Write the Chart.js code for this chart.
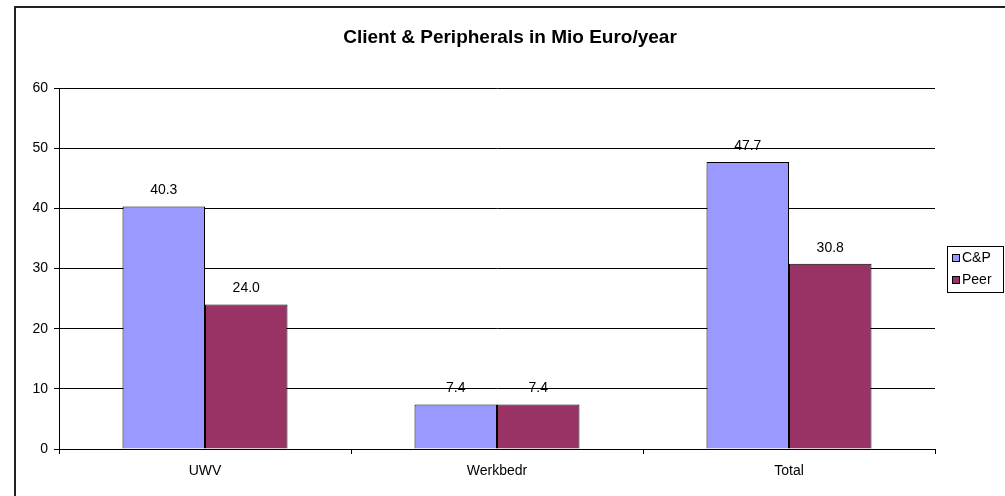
<!DOCTYPE html>
<html>
<head>
<meta charset="utf-8">
<script src="https://cdn.jsdelivr.net/npm/chart.js@4"></script>
<style>
    html, body { margin: 0; padding: 0; background: #fff; }
    #wrap { position: relative; width: 1005px; height: 496px; }
</style>
</head>
<body>
<div id="wrap"><canvas id="chart"></canvas></div>
<script>
const categories = ['UWV', 'Werkbedr', 'Total'];
const seriesNames = ['C&P', 'Peer'];
const cpValues = [40.3, 7.4, 47.7];
const peerValues = [24.0, 7.4, 30.8];
const seriesColors = ['#9999FF', '#993366'];
const yTicks = [0, 10, 20, 30, 40, 50, 60];
const chartTitle = 'Client & Peripherals in Mio Euro/year';

const font = 'Arial, "Liberation Sans", sans-serif';

// outer frame, title, value labels and boxed legend
const extras = {
    id: 'extras',
    beforeDraw(chart) {
        const ctx = chart.ctx;
        ctx.save();
        ctx.fillStyle = '#fff';
        ctx.fillRect(0, 0, chart.width, chart.height);
        ctx.strokeStyle = '#222';
        ctx.lineWidth = 2;
        ctx.strokeRect(15, 7, chart.width + 20, chart.height + 20);
        ctx.font = 'bold 19px ' + font;
        ctx.fillStyle = '#000';
        ctx.textAlign = 'center';
        ctx.textBaseline = 'middle';
        ctx.fillText(chartTitle, 510, 38);
        ctx.restore();
    },
    afterDatasetsDraw(chart) {
        const ctx = chart.ctx;
        ctx.save();
        ctx.font = '14px ' + font;
        ctx.fillStyle = '#000';
        ctx.textAlign = 'center';
        ctx.textBaseline = 'middle';
        chart.data.datasets.forEach((ds, i) => {
            chart.getDatasetMeta(i).data.forEach((bar, j) => {
                ctx.fillText(ds.data[j].toFixed(1), bar.x, bar.y - 16);
            });
        });
        ctx.restore();
    },
    afterDraw(chart) {
        const ctx = chart.ctx;
        const x0 = 947, y0 = 246, w = 56, h = 46;
        ctx.save();
        ctx.fillStyle = '#fff';
        ctx.fillRect(x0, y0, w, h);
        ctx.strokeStyle = '#000';
        ctx.lineWidth = 1;
        ctx.strokeRect(x0 + 0.5, y0 + 0.5, w, h);
        ctx.font = '14px ' + font;
        ctx.textBaseline = 'middle';
        chart.data.datasets.forEach((ds, i) => {
            const cy = y0 + 12 + i * 22;
            ctx.fillStyle = ds.backgroundColor;
            ctx.fillRect(952, cy - 4, 8, 8);
            ctx.strokeStyle = '#000';
            ctx.strokeRect(952.5, cy - 3.5, 7, 7);
            ctx.fillStyle = '#000';
            ctx.fillText(ds.label, 962, cy);
        });
        ctx.restore();
    }
};

new Chart(document.getElementById('chart'), {
    type: 'bar',
    data: {
        labels: categories,
        datasets: [
            {
                label: seriesNames[0],
                data: cpValues,
                backgroundColor: seriesColors[0],
                borderColor: '#000',
                borderWidth: 1,
                categoryPercentage: 0.565,
                barPercentage: 1
            },
            {
                label: seriesNames[1],
                data: peerValues,
                backgroundColor: seriesColors[1],
                borderColor: '#000',
                borderWidth: 1,
                categoryPercentage: 0.565,
                barPercentage: 1
            }
        ]
    },
    options: {
        responsive: true,
        maintainAspectRatio: false,
        animation: false,
        layout: {
            padding: { left: 0, right: 70, top: 88, bottom: 0 }
        },
        plugins: {
            legend: { display: false },
            tooltip: { enabled: false },
            title: { display: false }
        },
        scales: {
            x: {
                grid: {
                    offset: true,
                    drawOnChartArea: false,
                    drawTicks: true,
                    tickLength: 5,
                    color: '#000'
                },
                border: { color: '#000', width: 1 },
                ticks: {
                    color: '#000',
                    font: { family: font, size: 14 },
                    padding: 9,
                    maxRotation: 0
                },
                afterFit(scale) { scale.height = 47; }
            },
            y: {
                min: 0,
                max: 60,
                afterBuildTicks(scale) {
                    scale.ticks = yTicks.map(v => ({ value: v }));
                },
                grid: {
                    color: '#000',
                    tickLength: 5
                },
                border: { color: '#000', width: 1 },
                ticks: {
                    color: '#000',
                    font: { family: font, size: 14 },
                    padding: 6
                },
                afterFit(scale) { scale.width = 59; }
            }
        }
    },
    plugins: [extras]
});
</script>
</body>
</html>
